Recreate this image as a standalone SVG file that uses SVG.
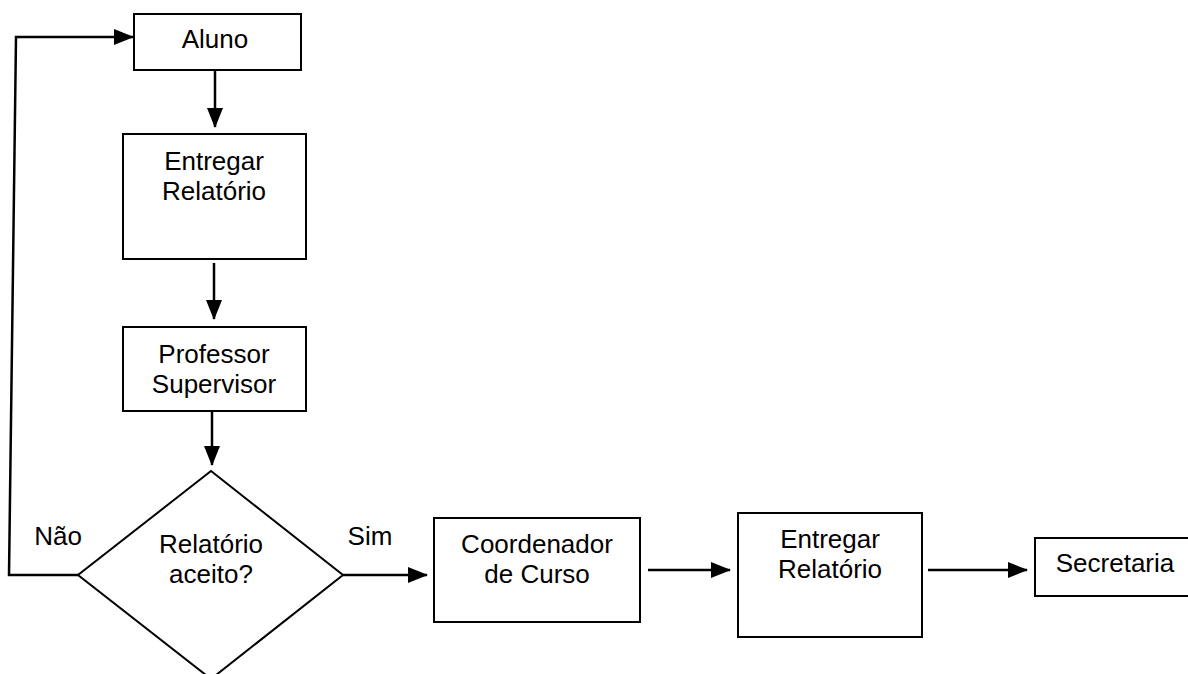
<svg xmlns="http://www.w3.org/2000/svg" width="1188" height="674" viewBox="0 0 1188 674">
<style>
.box{fill:#fff;stroke:#000;stroke-width:2}
.lbl{font-family:"Liberation Sans",Arial,sans-serif;font-size:26px;fill:#000;text-anchor:middle}
.con{fill:none;stroke:#000;stroke-width:2.5}
</style>
<defs>
<marker id="ah" markerUnits="userSpaceOnUse" markerWidth="20" markerHeight="18" viewBox="0 0 20 18" refX="19" refY="9" orient="auto">
<path d="M0,1 L20,9 L0,17 Z" fill="#000"/>
</marker>
</defs>
<rect width="1188" height="674" fill="#fff"/>
<g id="connectors">
<line class="con" x1="215" y1="71" x2="215" y2="127" marker-end="url(#ah)"/>
<line class="con" x1="214" y1="263" x2="214" y2="319" marker-end="url(#ah)"/>
<line class="con" x1="212" y1="411" x2="212" y2="465" marker-end="url(#ah)"/>
<line class="con" x1="343" y1="575" x2="427" y2="575" marker-end="url(#ah)"/>
<line class="con" x1="648" y1="570" x2="730" y2="570" marker-end="url(#ah)"/>
<line class="con" x1="928" y1="570" x2="1027" y2="570" marker-end="url(#ah)"/>
<polyline class="con" points="78,575 9,575 16,37 133,37" marker-end="url(#ah)"/>
<text class="lbl" x="58" y="545">Não</text>
<text class="lbl" x="370" y="545">Sim</text>
</g>
<g id="aluno">
<rect class="box" x="134" y="14" width="167" height="56"/>
<text class="lbl" x="215" y="48">Aluno</text>
</g>
<g id="entregar1">
<rect class="box" x="123" y="134" width="183" height="125"/>
<text class="lbl" x="214" y="170">Entregar</text>
<text class="lbl" x="214" y="200">Relatório</text>
</g>
<g id="professor">
<rect class="box" x="123" y="327" width="183" height="84"/>
<text class="lbl" x="214" y="363">Professor</text>
<text class="lbl" x="214" y="393">Supervisor</text>
</g>
<g id="decisao">
<polygon class="box" points="211,471 343,575 211,679 78,575"/>
<text class="lbl" x="211" y="553">Relatório</text>
<text class="lbl" x="211" y="583">aceito?</text>
</g>
<g id="coordenador">
<rect class="box" x="434" y="518" width="206" height="104"/>
<text class="lbl" x="537" y="553">Coordenador</text>
<text class="lbl" x="537" y="583">de Curso</text>
</g>
<g id="entregar2">
<rect class="box" x="738" y="513" width="184" height="124"/>
<text class="lbl" x="830" y="548">Entregar</text>
<text class="lbl" x="830" y="578">Relatório</text>
</g>
<g id="secretaria">
<rect class="box" x="1035" y="538" width="170" height="58"/>
<text class="lbl" x="1115" y="572">Secretaria</text>
</g>
</svg>
